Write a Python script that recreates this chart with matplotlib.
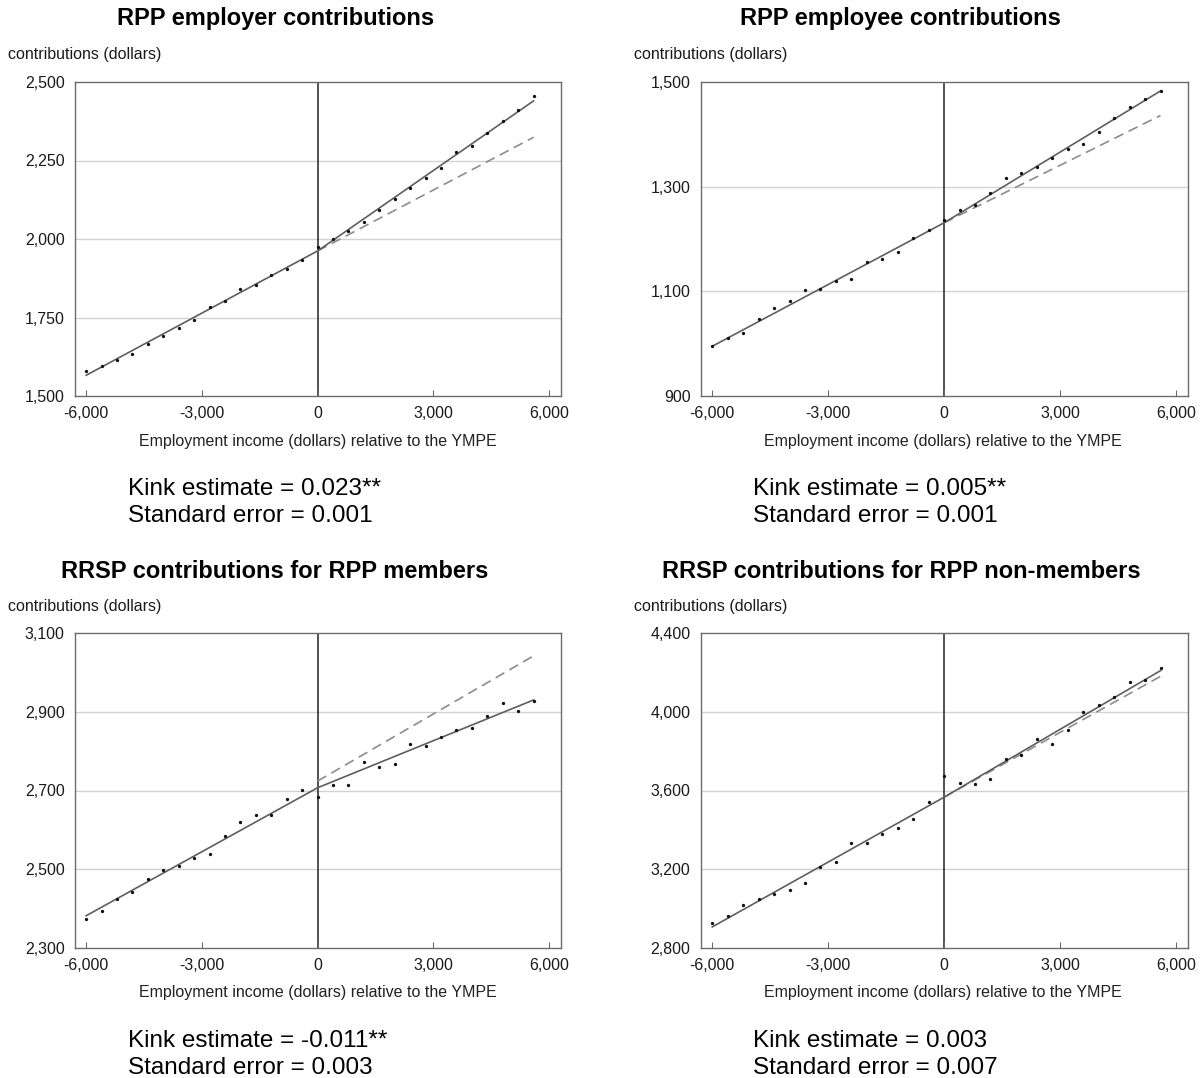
import matplotlib
matplotlib.use("Agg")
import matplotlib.pyplot as plt

plt.rcParams['font.family'] = ['Liberation Sans', 'DejaVu Sans']

# ---------------- data ----------------
income_bins = [-6000, -5600, -5200, -4800, -4400, -4000, -3600, -3200, -2800, -2400,
               -2000, -1600, -1200, -800, -400, 0, 400, 800, 1200, 1600,
               2000, 2400, 2800, 3200, 3600, 4000, 4400, 4800, 5200, 5600]

employer_means = [1579, 1595, 1616, 1635, 1665, 1691, 1718, 1741, 1785, 1803,
                  1841, 1855, 1886, 1905, 1932, 1974, 2000, 2026, 2053, 2093,
                  2128, 2164, 2194, 2227, 2277, 2296, 2339, 2377, 2411, 2455]
employee_means = [996, 1011, 1021, 1048, 1069, 1081, 1102, 1105, 1119, 1123,
                  1157, 1162, 1176, 1202, 1218, 1236, 1255, 1265, 1287, 1317,
                  1327, 1338, 1355, 1372, 1381, 1404, 1432, 1453, 1467, 1483]
rrsp_members_means = [2374, 2395, 2425, 2443, 2474, 2498, 2508, 2529, 2539, 2585,
                      2620, 2638, 2639, 2678, 2702, 2684, 2713, 2715, 2773, 2759,
                      2768, 2817, 2812, 2837, 2854, 2858, 2890, 2921, 2903, 2928]
rrsp_nonmembers_means = [2929, 2963, 3016, 3049, 3076, 3093, 3130, 3210, 3239, 3331,
                         3334, 3380, 3409, 3457, 3542, 3675, 3637, 3634, 3660, 3758,
                         3782, 3862, 3838, 3908, 3997, 4036, 4077, 4153, 4162, 4221]

# fitted kinked regression (at -6000, 0, 5600) and counterfactual extension (0 -> 5600)
fit_x = [-6000, 0, 5600]
cf_x = [0, 5600]
employer_fit = [1566, 1962, 2440]
employer_cf = [1962, 2324]
employee_fit = [995, 1231, 1483]
employee_cf = [1231, 1436]
rrsp_members_fit = [2382, 2707, 2930]
rrsp_members_cf = [2724, 3042]
rrsp_nonmembers_fit = [2907, 3566, 4209]
rrsp_nonmembers_cf = [3566, 4180]

titles = ["RPP employer contributions", "RPP employee contributions",
          "RRSP contributions for RPP members", "RRSP contributions for RPP non-members"]
kink_labels = ["Kink estimate = 0.023**", "Kink estimate = 0.005**",
               "Kink estimate = -0.011**", "Kink estimate = 0.003"]
se_labels = ["Standard error = 0.001", "Standard error = 0.001",
             "Standard error = 0.003", "Standard error = 0.007"]
y_ticks = [[1500, 1750, 2000, 2250, 2500],
           [900, 1100, 1300, 1500],
           [2300, 2500, 2700, 2900, 3100],
           [2800, 3200, 3600, 4000, 4400]]
x_ticks = [-6000, -3000, 0, 3000, 6000]
y_label = "contributions (dollars)"
x_label = "Employment income (dollars) relative to the YMPE"

means = [employer_means, employee_means, rrsp_members_means, rrsp_nonmembers_means]
fits = [employer_fit, employee_fit, rrsp_members_fit, rrsp_nonmembers_fit]
cfs = [employer_cf, employee_cf, rrsp_members_cf, rrsp_nonmembers_cf]

# ---------------- layout ----------------
W, H = 1204, 1078
fig = plt.figure(figsize=(W / 100, H / 100), dpi=100)

# pixel boxes: left, right, top, bottom
boxes = [(75, 561, 82, 396), (701, 1188, 82, 396),
         (75, 561, 633, 948), (701, 1188, 633, 948)]
title_pos = [(276, 19), (900, 19), (275, 571), (901, 571)]
ylab_pos = [(8, 55), (634, 55), (8, 606), (634, 606)]
xlab_pos = [(318, 441), (943, 441), (318, 993), (943, 993)]
kink_pos = [(128, 489), (753, 489), (128, 1041), (753, 1041)]

def fx(px):
    return px / W

def fy(py):
    return 1 - py / H

frame_col = '#6b6b6b'
for i in range(4):
    l, r, t, b = boxes[i]
    ax = fig.add_axes([fx(l), fy(b), (r - l) / W, (b - t) / H])
    yt = y_ticks[i]
    ax.set_xlim(-6290, 6310)
    ax.set_ylim(yt[0], yt[-1])
    ax.set_yticks(yt)
    ax.set_yticklabels([f"{v:,}" for v in yt])
    ax.set_xticks(x_ticks)
    ax.set_xticklabels([f"{v:,}" for v in x_ticks])
    ax.tick_params(axis='x', direction='in', length=4, width=0.8, color=frame_col,
                   labelsize=11.5, pad=7, labelcolor='#1a1a1a')
    ax.tick_params(axis='y', length=0, labelsize=11.5, pad=7.5, labelcolor='#1a1a1a')
    for sp in ax.spines.values():
        sp.set_color(frame_col)
        sp.set_linewidth(1.0)
    for v in yt[1:-1]:
        ax.axhline(v, color='#d2d2d2', lw=1.0, zorder=0)
    ax.axvline(0, color='#222222', lw=1.1, zorder=1)

    ax.plot(cf_x, cfs[i], color='#8c8c8c', lw=1.2, ls=(0, (6, 3.5)), zorder=2)
    ax.plot(fit_x, fits[i], color='#5e5e5e', lw=1.2, zorder=3)
    ax.plot(income_bins, means[i], ls='none', marker='o', ms=2.4,
            color='#111111', mec='none', zorder=4)

    tx, ty = title_pos[i]
    fig.text(fx(tx), fy(ty), titles[i], ha='center', va='center',
             fontsize=17, fontweight='bold')
    lx, ly = ylab_pos[i]
    fig.text(fx(lx), fy(ly), y_label, ha='left', va='center', fontsize=11.5,
             color='#1a1a1a')
    xx, xy = xlab_pos[i]
    fig.text(fx(xx), fy(xy), x_label, ha='center', va='center', fontsize=11.5,
             color='#222222')
    kx, ky = kink_pos[i]
    fig.text(fx(kx), fy(ky), kink_labels[i], ha='left', va='center', fontsize=17.5)
    fig.text(fx(kx), fy(ky + 27), se_labels[i], ha='left', va='center', fontsize=17.5)

fig.savefig("out.png", dpi=100, facecolor='white')
